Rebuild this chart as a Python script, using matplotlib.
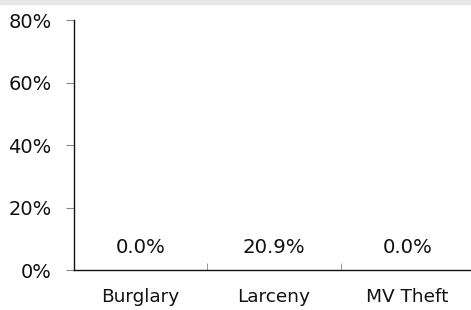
import matplotlib.pyplot as plt
import matplotlib.patches as mpatches
import numpy as np

categories = ['Burglary', 'Larceny', 'MV Theft']
values = [0.0, 20.9, 0.0]
y_ticks = [0, 20, 40, 60, 80]

plt.rc('font', family='DejaVu Sans')

fig = plt.figure(figsize=(4.71, 3.10), dpi=100)
fig.patches.append(mpatches.Rectangle((0, 0.987), 1, 0.013, transform=fig.transFigure,
                                      color='#e6e6e6', zorder=0))
ax = fig.add_axes([0.157, 0.129, 0.85, 0.806])

x = np.arange(len(categories))
# bars are drawn white in the original (not visible)
ax.bar(x, values, 0.6, color='white')

for xi, v in zip(x, values):
    ax.annotate(f'{v:.1f}%', (xi, 0), xytext=(0, 9.5), textcoords='offset points',
                ha='center', va='bottom', fontsize=14.2, color='#111111')

ax.set_xlim(-0.5, 2.5)
ax.set_ylim(0, 80)
ax.set_yticks(y_ticks)
ax.set_yticklabels([f'{t}%' for t in y_ticks], fontsize=14, color='#111111')
ax.set_xticks(x)
ax.set_xticklabels(categories, fontsize=13.3, color='#111111')
ax.tick_params(axis='x', length=0, pad=13)
ax.set_xticks([0.5, 1.5], minor=True)
ax.tick_params(axis='x', which='minor', direction='in', length=5, color='#888888')
ax.tick_params(axis='y', length=6, color='#888888', pad=10)

for s in ['top', 'right']:
    ax.spines[s].set_visible(False)
for s in ['left', 'bottom']:
    ax.spines[s].set_color('#111111')
    ax.spines[s].set_linewidth(1.0)

plt.savefig('out.png', dpi=100)
